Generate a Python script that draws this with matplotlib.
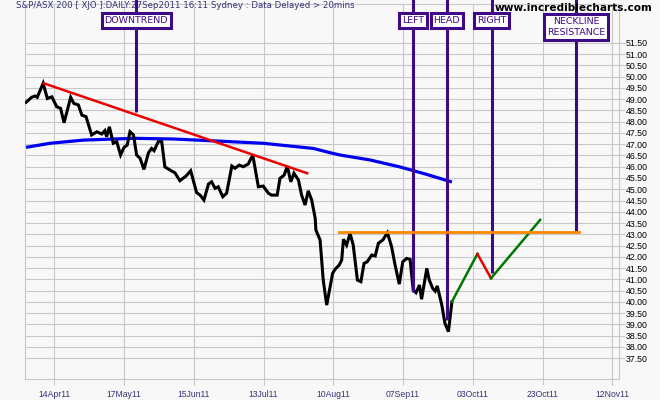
import matplotlib
matplotlib.use("Agg")
import matplotlib.pyplot as plt
import matplotlib.transforms as mtransforms

# ---------------- data ----------------
# trading-session index (0 = 14Apr11, 20 sessions per grid step) and close (index / 100)
session = [-8.1, -6.5, -5.5, -4.9, -3.2, -2.0, -0.7, 0.7, 1.8, 2.8, 4.7, 5.6, 6.9, 7.9, 9.1,
           10.7, 12.2, 13.6, 14.5, 15.0, 15.8, 16.9, 17.9, 19.0, 20.0, 20.9, 21.7, 22.7, 23.6,
           24.6, 25.7, 27.0, 27.9, 28.6, 29.8, 30.8, 31.7, 33.2, 34.6, 36.0, 37.8, 39.1, 40.8,
           41.8, 42.9, 44.2, 45.1, 46.1, 47.0, 48.3, 49.4, 50.9, 51.8, 53.0, 54.2, 55.6, 56.9,
           58.5, 59.9, 61.4, 62.3, 63.9, 64.7, 65.9, 66.8, 67.8, 68.7, 70.0, 70.9, 71.9, 72.8,
           73.8, 74.8, 75.0, 76.2, 77.1, 78.1, 79.8, 80.5, 81.7, 82.4, 82.9, 83.8, 84.8, 85.7,
           86.9, 87.9, 88.8, 89.7, 91.0, 92.0, 92.9, 94.2, 95.5, 96.7, 97.7, 98.9, 99.9, 101.0,
           102.0, 102.9, 103.7, 104.7, 105.3, 106.8, 107.5, 108.5, 109.2, 109.8, 111.1, 112.0,
           113.0, 114.0]
close = [48.86, 49.08, 49.14, 49.08, 49.70, 49.03, 49.10, 48.66, 48.59, 47.95, 49.08, 48.81,
         48.74, 48.29, 48.22, 47.41, 47.55, 47.45, 47.60, 47.33, 47.77, 47.04, 47.11, 46.52,
         46.86, 46.96, 47.55, 47.41, 46.52, 46.37, 45.88, 46.62, 46.81, 46.71, 47.11, 47.11,
         45.99, 45.85, 45.73, 45.38, 45.59, 45.82, 44.85, 44.74, 44.52, 45.23, 45.33, 45.04,
         45.11, 44.67, 44.82, 46.03, 45.93, 46.07, 46.00, 46.12, 46.52, 45.11, 45.14, 44.82,
         44.74, 44.74, 45.48, 45.63, 46.03, 45.33, 45.71, 45.41, 44.74, 44.30, 44.93, 44.52,
         43.71, 43.19, 42.75, 40.97, 39.86, 41.27, 41.45, 41.64, 41.86, 42.78, 42.52, 43.04,
         42.52, 40.97, 40.90, 41.71, 41.78, 42.08, 42.04, 42.60, 42.75, 43.07, 42.45, 41.64,
         40.79, 41.78, 41.93, 41.89, 40.53, 40.41, 40.75, 40.12, 41.49, 40.97, 40.60, 40.48,
         40.71, 39.86, 39.05, 38.68, 40.01]

# moving average
ma_session = [-8.1, -1.2, 8.3, 22.7, 34.1, 46.6, 59.9, 74.3, 79.1, 81.9, 90.5, 99.1, 106.3, 114.0]
ma_value = [46.86, 47.04, 47.18, 47.26, 47.23, 47.14, 47.04, 46.81, 46.62, 46.52, 46.30, 45.99,
            45.68, 45.32]

# downtrend line
trend_session = [-3.0, 72.5]
trend_value = [49.70, 45.71]

# neckline
neck_session = [81.7, 150.3]
neck_value = [43.12, 43.12]

# projected right shoulder path
proj_up1_session = [114.0, 121.3]
proj_up1_value = [40.01, 42.13]
proj_down_session = [121.3, 125.2]
proj_down_value = [42.13, 41.05]
proj_up2_session = [125.2, 139.3]
proj_up2_value = [41.05, 43.64]

# annotations: label, session, price pointed at
ann_labels = ["DOWNTREND", "LEFT", "HEAD", "RIGHT", "NECKLINE\nRESISTANCE"]
ann_session = [23.5, 102.9, 112.5, 125.4, 149.6]
ann_value = [48.44, 40.45, 39.20, 41.28, 43.12]

# axes ticks
x_tick_pos = [0, 20, 40, 60, 80, 100, 120, 140, 160]
x_tick_labels = ["14Apr11", "17May11", "15Jun11", "13Jul11", "10Aug11",
                 "07Sep11", "03Oct11", "23Oct11", "12Nov11"]
y_ticks = [37.5 + 0.5 * i for i in range(29)]

title = "S&P/ASX 200 [ XJO ]:DAILY:27Sep2011 16:11 Sydney : Data Delayed > 20mins"
site = "www.incrediblecharts.com"

# ---------------- figure ----------------
W, H = 660, 400
bg = "#f8f8f8"
grid_c = "#c8c8c8"
purple = "#3f0a88"
navy = "#333377"

fig = plt.figure(figsize=(W / 100, H / 100), dpi=100, facecolor=bg)
ax_l, ax_r, ax_t, ax_b = 25, 619, 4, 379
ax = fig.add_axes([ax_l / W, 1 - ax_b / H, (ax_r - ax_l) / W, (ax_b - ax_t) / H])
ax.set_facecolor(bg)

ax.set_xlim(-8.4, 161.9)
ax.set_ylim(36.58, 53.22)

ax.set_xticks(x_tick_pos)
ax.set_xticklabels(x_tick_labels, fontsize=6.2, color=navy, family="Liberation Sans")
ax.set_yticks(y_ticks)
ax.set_yticklabels([f"{v:.2f}" for v in y_ticks], fontsize=6.3, color="black",
                   family="Liberation Sans")
ax.yaxis.tick_right()
ax.tick_params(axis="y", length=4, width=0.8, color=grid_c, pad=1)
ax.tick_params(axis="x", length=4, width=0.8, color=grid_c, pad=4)
ax.grid(True, color=grid_c, linewidth=0.8)
ax.set_axisbelow(True)
for s in ax.spines.values():
    s.set_color(grid_c)
    s.set_linewidth(0.8)

# lines
ax.plot(ma_session, ma_value, color="#0000ee", lw=2.3, zorder=3, solid_capstyle="butt")
ax.plot(session, close, color="black", lw=2.2, zorder=4, solid_joinstyle="miter")
ax.plot(trend_session, trend_value, color="#ee0000", lw=1.8, zorder=5)
ax.plot(proj_up1_session, proj_up1_value, color="#007700", lw=1.8, zorder=5)
ax.plot(proj_down_session, proj_down_value, color="#ee0000", lw=1.8, zorder=5)
ax.plot(proj_up2_session, proj_up2_value, color="#007700", lw=1.8, zorder=5)

# annotations
trans = mtransforms.blended_transform_factory(ax.transData, ax.transAxes)
top_val = 53.5
for lab, sx, sv in zip(ann_labels, ann_session, ann_value):
    ax.plot([sx, sx], [sv, top_val], color=purple, lw=2.2, zorder=4.5, clip_on=False,
            solid_capstyle="butt")
    two = "\n" in lab
    yc_px = 27.0 if two else 20.3
    ax.text(sx, (ax_b - yc_px) / (ax_b - ax_t), lab, transform=trans, ha="center",
            va="center", fontsize=6.8, color=purple, linespacing=1.25, zorder=10,
            bbox=dict(boxstyle="square,pad=0.3", fc="white", ec=purple, lw=2.2))

ax.plot(neck_session, neck_value, color="#ff8800", lw=2.0, zorder=6)

# header texts
fig.text(16 / W, 1 - 6 / H, title, fontsize=6.2, color=navy, ha="left", va="center",
         family="DejaVu Sans", zorder=20)
fig.text(652 / W, 1 - 8 / H, site, fontsize=7.6, color="black", ha="right", va="center",
         fontweight="bold", family="DejaVu Sans", zorder=20)

fig.savefig("out.png", dpi=100, facecolor=bg)
